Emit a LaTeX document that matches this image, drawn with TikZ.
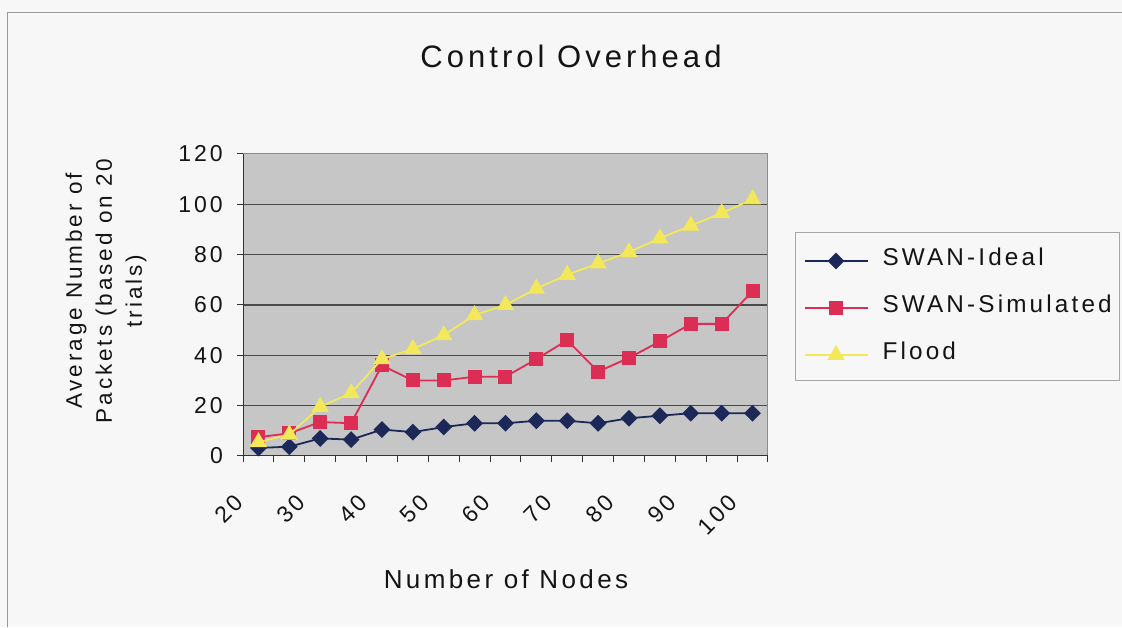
\documentclass[tikz,border=0pt]{standalone}
\usepackage{fontspec}
\setmainfont{Liberation Sans}[LetterSpace=13]
\usetikzlibrary{shapes.geometric,positioning}

\definecolor{idealc}{HTML}{1B2858}
\definecolor{simulc}{HTML}{DC2E55}
\definecolor{floodc}{HTML}{F2E85A}
\definecolor{plotbg}{HTML}{C6C6C6}
\definecolor{gridc}{HTML}{4A4A4A}
\definecolor{txtc}{HTML}{141414}

\begin{document}
\begin{tikzpicture}[x=1pt,y=1pt,text=txtc,
	font=\fontsize{23}{27}\selectfont]
	
	\tikzstyle{axisline}=[draw=black!80, line width=1pt]
	\tikzstyle{ticklab}=[inner sep=0pt, font=\fontsize{23}{27}\selectfont]
	\tikzstyle{diam}=[diamond, fill=idealc, inner sep=0pt, minimum size=17pt]
	\tikzstyle{sq}=[rectangle, fill=simulc, inner sep=0pt, minimum size=14pt]
	\tikzstyle{tri}=[regular polygon, regular polygon sides=3, fill=floodc,
		inner sep=0pt, minimum size=20pt]
	
	%page
	\fill[white!97!black] (0,0) rectangle (1122,627);
	\useasboundingbox (0,0) rectangle (1122,627);
	\draw[black!40, line width=1pt] (7,0) -- (7,614) -- (1122,614);
	
	%title
	\node[font=\fontsize{31}{36}\selectfont, anchor=base]
	(title) at (571,559) {Control Overhead};
	
	%chart
	\begin{scope}[shift={(243,171)}, x=30.88pt, y=2.517pt]
		\fill[plotbg] (0,0) rectangle (17,120);
		\foreach \v in {20,40,...,100}
			\draw[gridc, line width=1.3pt] (0,\v) -- (17,\v);
		\draw[black!45, line width=1pt] (0,120) -- (17,120) -- (17,0);
		\draw[axisline] (0,120) -- (0,0) -- (17,0);
		
		\foreach \v in {0,20,...,120} {
			\draw[axisline] (0,\v) -- ([xshift=-6pt]0,\v);
			\node[ticklab, anchor=east] (ylab\v) at ([xshift=-20pt]0,\v) {\v};
		}
		\foreach \k in {0,...,17}
			\draw[axisline] (\k,0) -- ([yshift=-6pt]\k,0);
		\foreach \n [count=\c] in {20,30,...,100}
			\node[ticklab, rotate=45, anchor=east] (xlab\n)
			at ([shift={(-19pt,-43pt)}]{2*\c-1.5},0) {\n};
		
		%data
		\foreach \v [count=\i] in {3.2,3.7,7,6.5,10.5,9.5,11.5,13,13,14,14,13,15,16,17,17,17}
			\coordinate (id\i) at (\i-0.5,\v);
		\foreach \v [count=\i] in {7.5,9,13.5,13,36,30,30,31.5,31.5,38.5,46,33.5,39,45.5,52.5,52.5,65.5}
			\coordinate (sim\i) at (\i-0.5,\v);
		\foreach \v [count=\i] in {5.5,8.5,19.5,25,38.5,42.5,48,56,60,66.5,72,76.5,81,86.5,91.5,96.5,102}
			\coordinate (fl\i) at (\i-0.5,\v);
		
		\draw[idealc, line width=1.8pt] (id1) \foreach \i in {2,...,17} { -- (id\i) };
		\foreach \i in {1,...,17} \node[diam] (idm\i) at (id\i) {};
		
		\draw[simulc, line width=1.8pt] (sim1) \foreach \i in {2,...,17} { -- (sim\i) };
		\foreach \i in {1,...,17} \node[sq] (simm\i) at (sim\i) {};
		
		\draw[floodc, line width=1.8pt] (fl1) \foreach \i in {2,...,17} { -- (fl\i) };
		\foreach \i in {1,...,17} \node[tri] (flm\i) at (fl\i) {};
	\end{scope}
	
	%axis titles
	\node[font=\fontsize{26}{30}\selectfont] (xtitle) at (506,48) {Number of Nodes};
	\node[font=\fontsize{22.5}{30}\selectfont, rotate=90, align=center]
	(ytitle) at (106,336) {Average Number of\\Packets (based on 20\\trials)};
	
	%legend
	\draw[black!35, fill=white!97!black, line width=1pt] (795,246) rectangle (1119,394);
	\coordinate (lgA) at (805,366);
	\coordinate (lgB) at (805,319);
	\coordinate (lgC) at (805,272);
	\draw[idealc, line width=1.6pt] (lgA) -- ++(63,0);
	\node[diam] (lgmA) at ([xshift=31pt]lgA) {};
	\draw[simulc, line width=1.6pt] (lgB) -- ++(63,0);
	\node[sq] (lgmB) at ([xshift=31pt]lgB) {};
	\draw[floodc, line width=1.6pt] (lgC) -- ++(63,0);
	\node[tri] (lgmC) at ([xshift=31pt]lgC) {};
	
	\node[font=\fontsize{24.3}{28}\selectfont, anchor=base west]
	(lgtA) at (879,361) {SWAN-Ideal};
	\node[font=\fontsize{24.3}{28}\selectfont, anchor=base west]
	(lgtB) at (879,314) {SWAN-Simulated};
	\node[font=\fontsize{24.3}{28}\selectfont, anchor=base west]
	(lgtC) at (879,267) {Flood};
	
\end{tikzpicture}
\end{document}
